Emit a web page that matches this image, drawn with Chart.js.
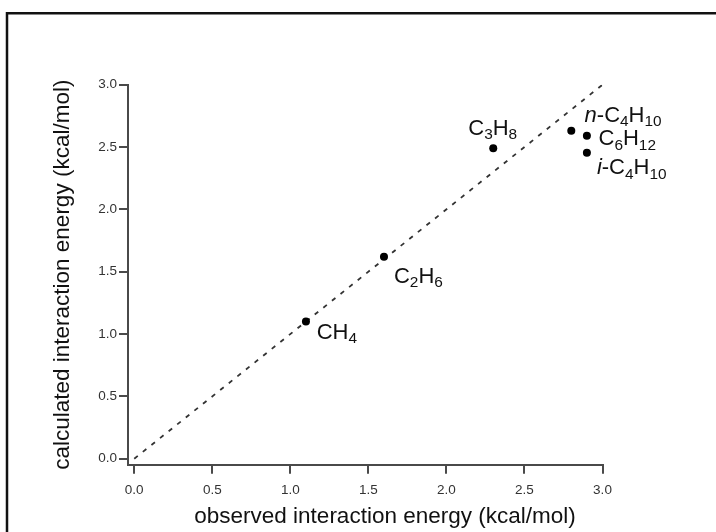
<!DOCTYPE html>
<html>
<head>
<meta charset="utf-8">
<script src="https://cdn.jsdelivr.net/npm/chart.js@4/dist/chart.umd.min.js"></script>
<style>
  html, body { margin: 0; padding: 0; background: #fff; }
  #wrap { position: relative; width: 716px; height: 532px; overflow: hidden; }
  canvas { display: block; }
</style>
</head>
<body>
<div id="wrap"><canvas id="c" width="716" height="532"></canvas></div>
<script>
// ---- data ----
const compounds  = ['CH4', 'C2H6', 'C3H8', 'n-C4H10', 'C6H12', 'i-C4H10'];
const observed   = [1.10, 1.60, 2.30, 2.80, 2.90, 2.90];
const calculated = [1.10, 1.62, 2.49, 2.63, 2.59, 2.455];
const diagonalX  = [0, 3];
const diagonalY  = [0, 3];
const tickValues = [0, 0.5, 1.0, 1.5, 2.0, 2.5, 3.0];
const tickLabels = ['0.0', '0.5', '1.0', '1.5', '2.0', '2.5', '3.0'];
const xTitle = 'observed interaction energy (kcal/mol)';
const yTitle = 'calculated interaction energy (kcal/mol)';

// label placement (pixels, relative to the point: left edge, baseline)
const labelOffsets = [[10.7, 17.3], [10, 26], [-25, -13.3], [13.3, -9], [11.6, 9.3], [10, 21.6]];

const FONT = '"Liberation Sans", Arial, Helvetica, sans-serif';
const TITLE_SIZE = 22.5;

const framePlugin = {
  id: 'frame',
  afterDraw(chart) {
    const ctx = chart.ctx;
    ctx.save();
    ctx.strokeStyle = '#111';
    ctx.lineWidth = 2.5;
    ctx.beginPath();
    ctx.moveTo(7, 560);
    ctx.lineTo(7, 13.2);
    ctx.lineTo(760, 13.2);
    ctx.stroke();
    ctx.restore();
  }
};

const axisTitlePlugin = {
  id: 'axisTitles',
  afterDraw(chart) {
    const ctx = chart.ctx;
    const area = chart.chartArea;
    ctx.save();
    ctx.fillStyle = '#111';
    ctx.font = TITLE_SIZE + 'px ' + FONT;
    ctx.textAlign = 'center';
    ctx.textBaseline = 'alphabetic';
    ctx.fillText(xTitle, 385, 523);
    ctx.translate(68.5, (area.top + area.bottom) / 2);
    ctx.rotate(-Math.PI / 2);
    ctx.fillText(yTitle, 0, 0);
    ctx.restore();
  }
};

function drawChemLabel(ctx, text, x, y) {
  let italicPrefix = null;
  let body = text;
  const m = text.match(/^([a-z])-(.*)$/);
  if (m) { italicPrefix = m[1]; body = m[2]; }
  const mainFont = '22px ' + FONT;
  const subFont = '15.4px ' + FONT;
  ctx.textBaseline = 'alphabetic';
  ctx.textAlign = 'left';
  ctx.fillStyle = '#111';
  let cx = x;
  if (italicPrefix) {
    ctx.font = 'italic ' + mainFont;
    ctx.fillText(italicPrefix, cx, y);
    cx += ctx.measureText(italicPrefix).width;
    ctx.font = mainFont;
    ctx.fillText('-', cx, y);
    cx += ctx.measureText('-').width;
  }
  const runs = body.match(/[0-9]+|[^0-9]+/g) || [];
  for (const r of runs) {
    if (/^[0-9]+$/.test(r)) {
      ctx.font = subFont;
      ctx.fillText(r, cx, y + 4.5);
    } else {
      ctx.font = mainFont;
      ctx.fillText(r, cx, y);
    }
    cx += ctx.measureText(r).width;
  }
}

const labelPlugin = {
  id: 'chemLabels',
  afterDatasetsDraw(chart) {
    const meta = chart.getDatasetMeta(0);
    const ctx = chart.ctx;
    ctx.save();
    meta.data.forEach((el, i) => {
      const off = labelOffsets[i];
      drawChemLabel(ctx, compounds[i], el.x + off[0], el.y + off[1]);
    });
    ctx.restore();
  }
};

const axisCommon = {
  type: 'linear',
  max: 3.0,
  grid: { drawOnChartArea: false, drawTicks: true, tickLength: 9, color: '#4a4a4a', lineWidth: 2 },
  border: { display: true, color: '#4a4a4a', width: 2 },
  afterBuildTicks: (scale) => { scale.ticks = tickValues.map(v => ({ value: v })); },
};

new Chart(document.getElementById('c'), {
  data: {
    datasets: [
      {
        type: 'scatter',
        label: 'compounds',
        data: observed.map((v, i) => ({ x: v, y: calculated[i] })),
        pointRadius: 4,
        pointBackgroundColor: '#000',
        pointBorderColor: '#000',
        pointBorderWidth: 0,
        order: 0
      },
      {
        type: 'line',
        label: 'y = x',
        data: diagonalX.map((v, i) => ({ x: v, y: diagonalY[i] })),
        borderColor: '#333',
        borderWidth: 1.8,
        borderDash: [4.5, 6.5],
        pointRadius: 0,
        fill: false,
        order: 1
      }
    ]
  },
  options: {
    responsive: false,
    animation: false,
    layout: { padding: { top: 84.7, right: 113.5, bottom: 0, left: 0 } },
    plugins: { legend: { display: false }, tooltip: { enabled: false }, title: { display: false } },
    scales: {
      x: Object.assign({}, axisCommon, {
        position: 'bottom',
        min: -0.04,
        ticks: {
          autoSkip: false, maxRotation: 0,
          padding: 8,
          color: '#333',
          font: { family: FONT, size: 13.5 },
          callback: (v, i) => tickLabels[i]
        },
        title: { display: false },
        afterFit: (scale) => { scale.height = 67.3; }
      }),
      y: Object.assign({}, axisCommon, {
        position: 'left',
        min: -0.048,
        ticks: {
          autoSkip: false,
          padding: 2,
          color: '#333',
          font: { family: FONT, size: 13.5 },
          callback: (v, i) => tickLabels[i]
        },
        title: { display: false },
        afterFit: (scale) => { scale.width = 128; }
      })
    }
  },
  plugins: [labelPlugin, axisTitlePlugin, framePlugin]
});
</script>
</body>
</html>
